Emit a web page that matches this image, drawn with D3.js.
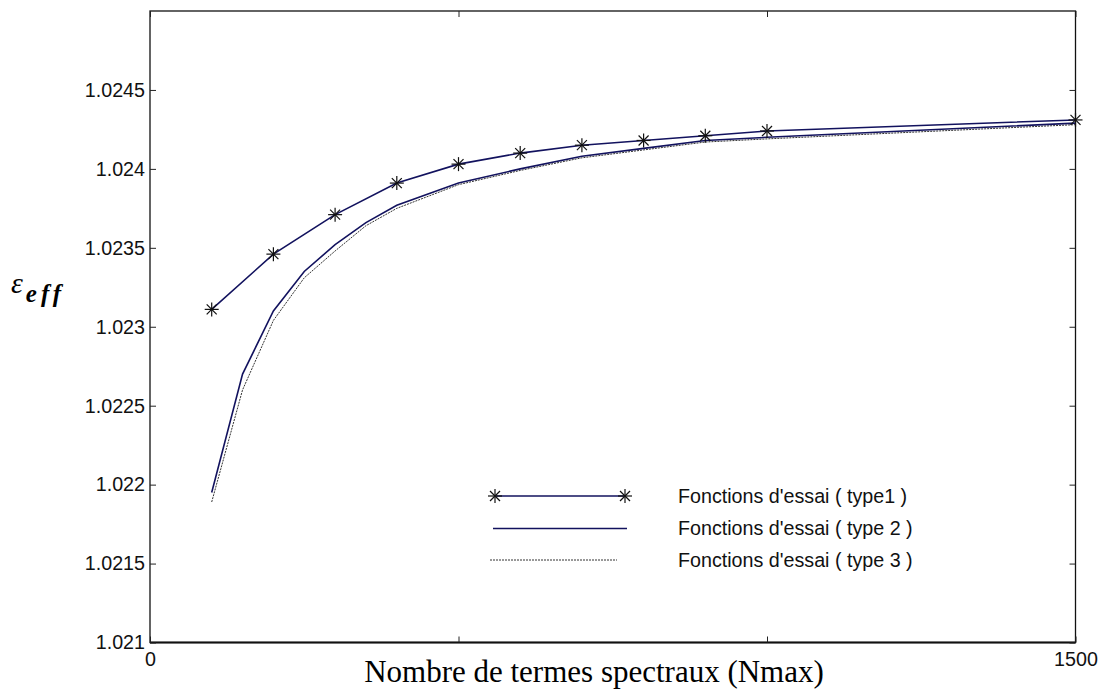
<!DOCTYPE html>
<html>
<head>
<meta charset="utf-8">
<script src="https://cdn.jsdelivr.net/npm/d3@7"></script>
<style>
  html, body { margin: 0; padding: 0; background: #fff; }
  svg { display: block; }
  .legend-label { font-family: "Liberation Sans", Arial, sans-serif; font-size: 19.7px; fill: #111; }
  .x-title { font-family: "Liberation Serif", "Times New Roman", serif; font-size: 31px; fill: #000; }
</style>
</head>
<body>
<svg id="chart" width="1101" height="690"></svg>
<script>
// Number of spectral terms (Nmax) and effective permittivity for each trial-function type
const nTermsType1 = [100, 200, 300, 400, 500, 600, 700, 800, 900, 1000, 1500];
const epsType1 = [1.02311, 1.02346, 1.02371, 1.02391, 1.02403, 1.02410, 1.02415, 1.02418, 1.02421, 1.02424, 1.02431];

const nTermsType23 = [100, 150, 200, 250, 300, 350, 400, 500, 600, 700, 800, 900, 1000, 1500];
const epsType2 = [1.02195, 1.02270, 1.02310, 1.02335, 1.02352, 1.02366, 1.02377, 1.02391, 1.02400, 1.02408, 1.02413, 1.02418, 1.02420, 1.02429];
const epsType3 = [1.02189, 1.02260, 1.02304, 1.02331, 1.02348, 1.02364, 1.02375, 1.02390, 1.02399, 1.02407, 1.02412, 1.02417, 1.02419, 1.02428];

// Axis ticks and labels
const yTicks = [1.021, 1.0215, 1.022, 1.0225, 1.023, 1.0235, 1.024, 1.0245];
const yTickLabels = ["1.021", "1.0215", "1.022", "1.0225", "1.023", "1.0235", "1.024", "1.0245"];
const xTicks = [0, 500, 1000, 1500];
const xTickLabels = ["0", "", "", "1500"];

const legendLabels = ["Fonctions d'essai ( type1 )", "Fonctions d'essai ( type 2 )", "Fonctions d'essai ( type 3 )"];
const xTitle = "Nombre de termes spectraux (Nmax)";

const plot = { left: 150, right: 1075.5, top: 11, bottom: 642.5 };
const lineColor = "#12125e";

const svg = d3.select("#chart");

const x = d3.scaleLinear().domain([0, 1500]).range([plot.left, plot.right]);
const y = d3.scaleLinear().domain([1.021, 1.025]).range([plot.bottom, plot.top]);

// Frame (bottom edge drawn a little heavier)
svg.append("rect")
  .attr("x", plot.left).attr("y", plot.top)
  .attr("width", plot.right - plot.left).attr("height", plot.bottom - plot.top)
  .attr("fill", "none").attr("stroke", "#111").attr("stroke-width", 1.3);
svg.append("line")
  .attr("x1", plot.left).attr("x2", plot.right).attr("y1", plot.bottom).attr("y2", plot.bottom)
  .attr("stroke", "#111").attr("stroke-width", 2.2);

// Axes with inward ticks on all four sides
const tickLen = 6;
const yLeft = d3.axisLeft(y).tickValues(yTicks).tickSize(-tickLen).tickPadding(5)
  .tickFormat((d, i) => yTickLabels[i]);
const yRight = d3.axisRight(y).tickValues(yTicks).tickSize(-tickLen).tickFormat("");
const xBottom = d3.axisBottom(x).tickValues(xTicks).tickSize(-tickLen).tickPadding(10)
  .tickFormat((d, i) => xTickLabels[i]);
const xTop = d3.axisTop(x).tickValues(xTicks).tickSize(-tickLen).tickFormat("");

function styleAxis(g) {
  g.select(".domain").remove();
  g.selectAll(".tick line").attr("stroke", "#222").attr("stroke-width", 1);
  g.selectAll(".tick text").attr("fill", "#111")
    .style("font-family", "'Liberation Sans', Arial, sans-serif").style("font-size", "19.7px");
}
svg.append("g").attr("transform", `translate(${plot.left},0)`).call(yLeft).call(styleAxis);
svg.append("g").attr("transform", `translate(${plot.right},0)`).call(yRight).call(styleAxis);
svg.append("g").attr("transform", `translate(0,${plot.bottom})`).call(xBottom).call(styleAxis);
svg.append("g").attr("transform", `translate(0,${plot.top})`).call(xTop).call(styleAxis);

// Curves
const line = d3.line().x(d => x(d[0])).y(d => y(d[1]));
const series3 = nTermsType23.map((n, i) => [n, epsType3[i]]);
const series2 = nTermsType23.map((n, i) => [n, epsType2[i]]);
const series1 = nTermsType1.map((n, i) => [n, epsType1[i]]);

svg.append("path").datum(series3).attr("d", line)
  .attr("fill", "none").attr("stroke", "#333").attr("stroke-width", 1)
  .attr("stroke-dasharray", "2,1");
svg.append("path").datum(series2).attr("d", line)
  .attr("fill", "none").attr("stroke", lineColor).attr("stroke-width", 1.6);
svg.append("path").datum(series1).attr("d", line)
  .attr("fill", "none").attr("stroke", lineColor).attr("stroke-width", 1.6);

// Star marker (+ and x overlaid)
function star(g, cx, cy) {
  const a = 7, b = 5;
  const s = g.append("g").attr("stroke", "#111").attr("stroke-width", 1.2);
  s.append("line").attr("x1", cx - a).attr("x2", cx + a).attr("y1", cy).attr("y2", cy);
  s.append("line").attr("x1", cx).attr("x2", cx).attr("y1", cy - a).attr("y2", cy + a);
  s.append("line").attr("x1", cx - b).attr("x2", cx + b).attr("y1", cy - b).attr("y2", cy + b);
  s.append("line").attr("x1", cx - b).attr("x2", cx + b).attr("y1", cy + b).attr("y2", cy - b);
}
const markers = svg.append("g");
series1.forEach(d => star(markers, x(d[0]), y(d[1])));

// Legend
const legend = svg.append("g");
const legRows = [
  { y: 496, x1: 495, x2: 625, stroke: lineColor, dash: null, w: 1.6, stars: true },
  { y: 528.5, x1: 493, x2: 627, stroke: lineColor, dash: null, w: 1.4, stars: false },
  { y: 560, x1: 490, x2: 617, stroke: "#333", dash: "2,1", w: 1, stars: false }
];
legRows.forEach((r, i) => {
  legend.append("line").attr("x1", r.x1).attr("x2", r.x2).attr("y1", r.y).attr("y2", r.y)
    .attr("stroke", r.stroke).attr("stroke-width", r.w).attr("stroke-dasharray", r.dash);
  if (r.stars) { star(legend, r.x1, r.y); star(legend, r.x2, r.y); }
  legend.append("text").attr("class", "legend-label")
    .attr("x", 678).attr("y", r.y).attr("dy", "0.35em").text(legendLabels[i]);
});

// X axis title
svg.append("text").attr("class", "x-title")
  .attr("x", 594).attr("y", 682).attr("text-anchor", "middle").text(xTitle);

// Y axis title: epsilon with "eff" subscript
const yt = svg.append("text").attr("x", 11).attr("y", 293)
  .style("font-family", "'Liberation Serif', serif").style("font-style", "italic").attr("fill", "#000");
yt.append("tspan").style("font-size", "30px").text("\u03b5");
yt.append("tspan").attr("dx", 3).attr("dy", 9).style("font-size", "25px").style("font-weight", "bold")
  .style("letter-spacing", "4px").text("eff");
</script>
</body>
</html>
